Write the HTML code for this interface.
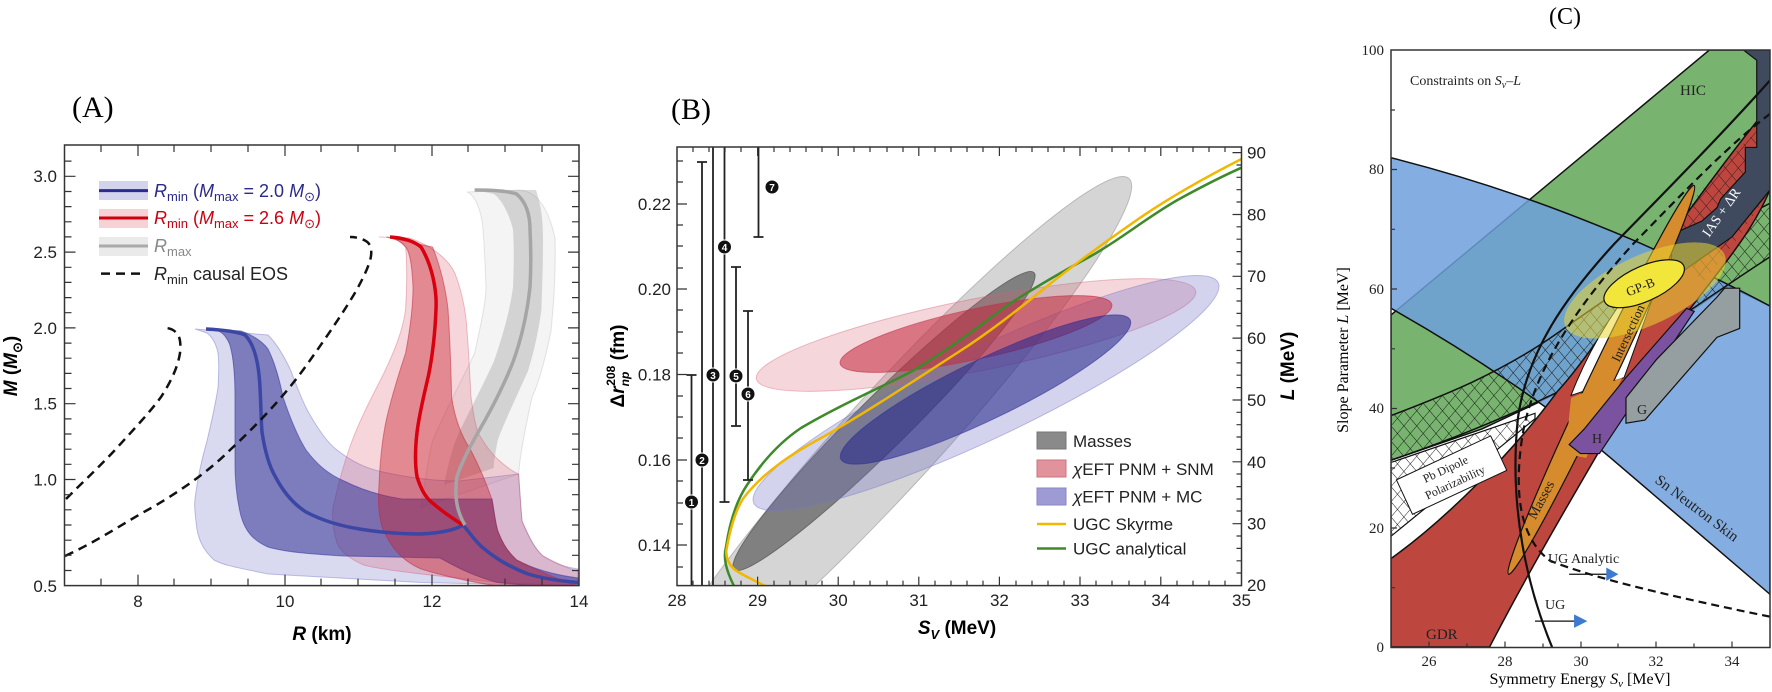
<!DOCTYPE html>
<html><head><meta charset="utf-8"><style>
html,body{margin:0;padding:0;background:#fff;overflow:hidden}
svg{display:block}
.s{font-family:"Liberation Sans",sans-serif}
.r{font-family:"Liberation Serif",serif}
</style></head><body>
<svg width="1772" height="692" viewBox="0 0 1772 692" xmlns="http://www.w3.org/2000/svg">
<defs>
<clipPath id="ca"><rect x="64.5" y="145" width="514.5" height="440.6"/></clipPath>
<clipPath id="cb"><rect x="677" y="147" width="564.5" height="438.6"/></clipPath>
<clipPath id="cc"><rect x="560" y="127" width="1000" height="1336"/></clipPath>
<pattern id="hx" width="24" height="24" patternUnits="userSpaceOnUse" patternTransform="rotate(45)">
<path d="M0 0H24M0 0V24" stroke="#111" stroke-width="2.2"/></pattern>
</defs>

<!-- ============ PANEL A ============ -->
<text x="72" y="117" class="r" font-size="30">(A)</text>
<g clip-path="url(#ca)">
<!-- gray outer light -->
<path d="M467,192 L520,190 C540,192 550,215 555,238 C556,280 553,310 551,331 C545,360 538,385 532,397 C525,430 520,455 518.6,474 L421,507.5 C425,480 428,460 432.5,441 C450,400 465,375 474.6,353 C482,320 486,300 486,287 C485,260 484,235 482,220.6 C478,200 472,194 467,192Z" fill="rgba(180,180,180,0.15)" stroke="rgba(170,170,170,0.3)"/>
<!-- gray mid -->
<path d="M474.6,190 L536,190 C541,205 543,220 543,238 C543,270 542,290 541.5,309 C538,335 533,355 528,371 C515,400 503,425 497.5,441 C495,455 494,462 493.7,468 L444,485 C448,465 452,448 459,432.5 C470,410 483,385 493.7,362 C503,335 510,310 513,287 C514,265 514,245 513,229.5 C508,210 500,198 493.7,194Z" fill="rgba(150,150,150,0.35)"/>
<!-- blue light -->
<path d="M195,329 L268,335 C278,345 285,358 291,371 C298,390 304,405 310,415 C320,432 328,443 337,450 C352,462 368,469 383,472 C410,478 435,481 459,481 L518.6,474 C520,495 521,510 522,521 C530,540 536,550 543,556 C555,564 565,567 578,569 L578,586 L421,582.5 L268,574 C240,568 225,566 214,560 C203,550 199,540 197,529.6 C195,515 194,505 195,499 C198,475 202,458 207,441 C212,420 216,400 218,388 C219,370 219,360 218,353 C216,343 212,337 207,333Z" fill="rgba(130,130,205,0.3)" stroke="rgba(120,120,200,0.45)"/>
<!-- red light -->
<path d="M379,237 L409.5,238 C430,245 448,258 455,273.6 C462,292 466,312 467,331 C469,355 470,380 471,397 C473,412 475,424 478,432.5 C485,445 491,453 497.5,459 C505,466 512,471 518.6,474 C520,495 521,510 522,521 C530,540 536,550 543,556 C560,565 570,569 578,571.5 L578,586 L497.5,582.5 L421,574 C395,571 375,568 363.6,565 C348,558 340,551 337,543 C333,530 332,518 333,507.5 C338,485 345,460 352,441 C362,415 373,395 383,375 C395,350 403,330 405.6,309 C407,285 407,262 405.6,247 C400,240 390,237 379,237Z" fill="rgba(220,70,90,0.22)" stroke="rgba(210,80,100,0.35)"/>
<!-- blue dark -->
<path d="M208.6,329 L241,331 C252,335 262,341 268,349 C276,365 280,382 283,397 C290,418 298,437 306,450 C318,466 330,475 344,481 C362,490 382,496 402,499 L492,499 C494,510 495,520 497.5,530 C503,545 509,553 516.6,560 C535,570 555,575 578,578 L578,590 L497.5,582.5 C470,575 455,566 440,558 L344,556 C310,554 285,552 268,547 C252,540 245,530 241,516 C237,500 235,480 235,463 C235,440 235,415 235,397 C235,375 233,355 229.6,344 C226,336 222,332 218,331Z" fill="rgba(50,50,150,0.55)" stroke="rgba(60,60,160,0.6)"/>
<!-- red dark -->
<path d="M386.5,237 L432.5,247 C440,265 446,290 448,309 C450,340 451,370 451.6,397 C455,420 462,437 470.7,450 C480,468 487,485 491.8,499 C494,512 495,522 497.5,530 C503,545 509,553 516.6,560 C540,572 560,580 578,586 L497.5,586 C470,582 440,575 421,569 C400,560 390,545 383,529.6 C378,515 378,500 379,485 C380,460 383,435 386.5,419 C392,395 400,370 405.6,353 C410,330 413,305 413,287 C412,265 410,252 405.6,247 C400,240 393,238 386.5,237Z" fill="rgba(200,30,45,0.42)" stroke="rgba(190,40,60,0.5)"/>
<!-- lines -->
<path d="M206,329 C225,330 238,332 245,335 C255,345 259,365 260,388 C261,405 261,420 262,432 C265,452 269,466 275.5,477 C285,495 295,505 306,512 C325,522 345,527 363.6,529.6 C385,533 405,534 421,534 C440,533 455,530 463,525 C470,533 476,542 482,547 C497,560 512,568 528,574 C545,579 560,581 578,582.5" fill="none" stroke="#3c46a4" stroke-width="3.5"/>
<path d="M390,237 C405,238 415,242 421,247 C432,265 437,290 436,309 C435,335 432,358 428.6,375 C424,395 419,415 417,432.5 C415,450 415,465 417,476.6 C421,490 426,498 432.5,503 C443,512 455,520 463,525" fill="none" stroke="#d90010" stroke-width="3.5"/>
<path d="M474.6,190 C495,190 508,191 516.6,194 C526,202 530,215 530,229.5 C531,250 531,270 530,287 C527,315 521,340 513,362 C502,390 490,412 478,432.5 C468,450 461,464 457,476.6 C455,490 456,503 459,512 C461,518 463,522 465,525" fill="none" stroke="#a5a5a5" stroke-width="3.5"/>
<!-- dashed -->
<path d="M66,499 C85,480 100,466 115,450 C135,428 150,412 161,397 C172,380 178,366 180,353 C181,344 180,338 178,335 C175,330 170,328 165,328" fill="none" stroke="#111" stroke-width="2.5" stroke-dasharray="9,6"/>
<path d="M65,556 C100,540 125,522 153,507 C185,488 210,470 230,450 C260,422 285,395 306,366 C328,335 345,310 356,291 C365,275 370,263 371,256 C372,248 370,243 365,240.5 C360,238 355,237 350,237" fill="none" stroke="#111" stroke-width="2.5" stroke-dasharray="9,6"/>
</g>
<rect x="64.5" y="145" width="514.5" height="440.6" fill="none" stroke="#333" stroke-width="1.5"/>
<g stroke="#333" stroke-width="1.2">
<path d="M101,585.6v-7M138,585.6v-11M174,585.6v-7M211,585.6v-7M248,585.6v-7M285,585.6v-11M321,585.6v-7M358,585.6v-7M395,585.6v-7M432,585.6v-11M468,585.6v-7M505,585.6v-7M542,585.6v-7"/>
<path d="M101,145v7M138,145v11M174,145v7M211,145v7M248,145v7M285,145v11M321,145v7M358,145v7M395,145v7M432,145v11M468,145v7M505,145v7M542,145v7"/>
<path d="M64.5,570.5h7M64.5,555.3h7M64.5,540.2h7M64.5,525h7M64.5,509.8h7M64.5,494.7h7M64.5,479.5h11M64.5,464.3h7M64.5,449.2h7M64.5,434h7M64.5,418.9h7M64.5,403.7h11M64.5,388.5h7M64.5,373.4h7M64.5,358.2h7M64.5,343.1h7M64.5,327.9h11M64.5,312.7h7M64.5,297.6h7M64.5,282.4h7M64.5,267.3h7M64.5,252.1h11M64.5,236.9h7M64.5,221.8h7M64.5,206.6h7M64.5,191.5h7M64.5,176.3h11M64.5,161.1h7"/>
<path d="M579,570.5h-7M579,555.3h-7M579,540.2h-7M579,525h-7M579,509.8h-7M579,494.7h-7M579,479.5h-11M579,464.3h-7M579,449.2h-7M579,434h-7M579,418.9h-7M579,403.7h-11M579,388.5h-7M579,373.4h-7M579,358.2h-7M579,343.1h-7M579,327.9h-11M579,312.7h-7M579,297.6h-7M579,282.4h-7M579,267.3h-7M579,252.1h-11M579,236.9h-7M579,221.8h-7M579,206.6h-7M579,191.5h-7M579,176.3h-11M579,161.1h-7"/>
</g>
<g class="s" font-size="17" fill="#222" text-anchor="end">
<text x="57" y="592">0.5</text><text x="57" y="485.5">1.0</text><text x="57" y="409.5">1.5</text><text x="57" y="334">2.0</text><text x="57" y="258">2.5</text><text x="57" y="182">3.0</text>
</g>
<g class="s" font-size="17" fill="#222" text-anchor="middle">
<text x="138" y="607">8</text><text x="285" y="607">10</text><text x="432" y="607">12</text><text x="579" y="607">14</text>
</g>
<text x="322" y="640" class="s" font-size="19" font-weight="bold" text-anchor="middle"><tspan font-style="italic">R</tspan> (km)</text>
<text transform="translate(17,366) rotate(-90)" class="s" font-size="19" font-weight="bold" text-anchor="middle"><tspan font-style="italic">M</tspan> (<tspan font-style="italic">M</tspan><tspan font-size="13" dy="5">⊙</tspan><tspan dy="-5">)</tspan></text>
<!-- legend A -->
<rect x="99" y="181" width="49" height="19" fill="rgba(130,130,205,0.35)"/><line x1="99" y1="190.6" x2="148" y2="190.6" stroke="#2c2c90" stroke-width="3"/>
<rect x="99" y="209" width="49" height="19" fill="rgba(220,70,90,0.25)"/><line x1="99" y1="218" x2="148" y2="218" stroke="#cc0010" stroke-width="3"/>
<rect x="99" y="237" width="49" height="19" fill="rgba(170,170,170,0.25)"/><line x1="99" y1="246" x2="148" y2="246" stroke="#aaa" stroke-width="3"/>
<line x1="101" y1="273.6" x2="144" y2="273.6" stroke="#111" stroke-width="2.5" stroke-dasharray="9,6"/>
<g class="s" font-size="18">
<text x="154" y="197" fill="#2a2a8a"><tspan font-style="italic">R</tspan><tspan font-size="13" dy="4">min</tspan><tspan dy="-4"> (</tspan><tspan font-style="italic">M</tspan><tspan font-size="13" dy="4">max</tspan><tspan dy="-4"> = 2.0 </tspan><tspan font-style="italic">M</tspan><tspan font-size="13" dy="4">⊙</tspan><tspan dy="-4">)</tspan></text>
<text x="154" y="224" fill="#cc0010"><tspan font-style="italic">R</tspan><tspan font-size="13" dy="4">min</tspan><tspan dy="-4"> (</tspan><tspan font-style="italic">M</tspan><tspan font-size="13" dy="4">max</tspan><tspan dy="-4"> = 2.6 </tspan><tspan font-style="italic">M</tspan><tspan font-size="13" dy="4">⊙</tspan><tspan dy="-4">)</tspan></text>
<text x="154" y="252" fill="#888"><tspan font-style="italic">R</tspan><tspan font-size="13" dy="4">max</tspan></text>
<text x="154" y="280" fill="#222"><tspan font-style="italic">R</tspan><tspan font-size="13" dy="4">min</tspan><tspan dy="-4"> causal EOS</tspan></text>
</g>

<!-- ============ PANEL B ============ -->
<text x="671" y="119" class="r" font-size="30">(B)</text>
<g clip-path="url(#cb)">
<ellipse cx="893" cy="437" rx="350" ry="48" transform="rotate(-47.6 893 437)" fill="rgba(150,150,150,0.4)" stroke="rgba(140,140,140,0.5)"/>
<ellipse cx="884" cy="421" rx="211" ry="26" transform="rotate(-44.7 884 421)" fill="rgba(95,95,95,0.72)" stroke="rgba(80,80,80,0.7)"/>
<ellipse cx="976" cy="335" rx="224" ry="36" transform="rotate(-11.3 976 335)" fill="rgba(215,90,110,0.25)" stroke="rgba(210,100,120,0.4)"/>
<ellipse cx="986" cy="393" rx="257" ry="45" transform="rotate(-25.4 986 393)" fill="rgba(110,110,200,0.3)" stroke="rgba(120,120,200,0.45)"/>
<ellipse cx="976" cy="334" rx="139" ry="25" transform="rotate(-12.3 976 334)" fill="rgba(195,40,60,0.55)" stroke="rgba(190,50,70,0.6)"/>
<ellipse cx="985.5" cy="389.5" rx="160.5" ry="30" transform="rotate(-25.7 985.5 389.5)" fill="rgba(40,40,140,0.58)" stroke="rgba(50,50,150,0.6)"/>
<path d="M734,586 C726,570 723,558 726,547 C730,520 737,500 747,485 C762,462 780,442 801,428 C840,405 880,388 912.5,371 C945,352 975,330 1002,309 C1030,290 1060,273 1091,256 C1120,240 1150,215 1180,198.6 C1205,185 1225,175 1241.5,167.7" fill="none" stroke="#3e8a2a" stroke-width="2.5"/>
<path d="M765,586 C750,578 740,574 734,569 C727,562 725,555 727,547 C731,525 736,510 743,498.7 C765,470 795,452 823,437 C870,410 915,380 957,353 C990,332 1020,308 1046,287 C1075,264 1105,242 1136,220.6 C1170,197 1210,175 1241.5,159" fill="none" stroke="#f0b800" stroke-width="2.5"/>
<!-- error bars -->
<g stroke="#222" stroke-width="1.8">
<path d="M691.5,586V375M686.5,375h10"/>
<path d="M702,586V162M697,162h10"/>
<path d="M713,586V147"/>
<path d="M724.5,147V502M719.5,502h10"/>
<path d="M736,267V426M731,267h10M731,426h10"/>
<path d="M748,311V480M743,311h10M743,480h10"/>
<path d="M758.5,147V237M753.5,237h10"/>
</g>
<g fill="#111" stroke="#fff" stroke-width="1">
<circle cx="691.5" cy="502" r="7"/><circle cx="702" cy="460" r="7"/><circle cx="713" cy="375" r="7"/><circle cx="724.5" cy="247" r="7"/><circle cx="736" cy="376" r="7"/><circle cx="748" cy="394" r="7"/><circle cx="772" cy="187" r="7"/>
</g>
<g class="s" font-size="10" font-weight="bold" fill="#fff" text-anchor="middle">
<text x="691.5" y="506">1</text><text x="702" y="464">2</text><text x="713" y="379">3</text><text x="724.5" y="251">4</text><text x="736" y="380">5</text><text x="748" y="398">6</text><text x="772" y="191">7</text>
</g>
</g>
<rect x="677" y="147" width="564.5" height="438.6" fill="none" stroke="#333" stroke-width="1.5"/>
<g stroke="#333" stroke-width="1.2">
<path d="M693,585.6v-5M709,585.6v-5M725,585.6v-5M741,585.6v-5M757.6,585.6v-9M774,585.6v-5M790,585.6v-5M806,585.6v-5M822,585.6v-5M838.2,585.6v-9M854,585.6v-5M870,585.6v-5M887,585.6v-5M903,585.6v-5M918.8,585.6v-9M935,585.6v-5M951,585.6v-5M967,585.6v-5M983,585.6v-5M999.4,585.6v-9M1016,585.6v-5M1032,585.6v-5M1048,585.6v-5M1064,585.6v-5M1080,585.6v-9M1096,585.6v-5M1112,585.6v-5M1129,585.6v-5M1145,585.6v-5M1160.8,585.6v-9M1177,585.6v-5M1193,585.6v-5M1209,585.6v-5M1225,585.6v-5"/>
<path d="M693,147v5M709,147v5M725,147v5M741,147v5M757.6,147v9M774,147v5M790,147v5M806,147v5M822,147v5M838.2,147v9M854,147v5M870,147v5M887,147v5M903,147v5M918.8,147v9M935,147v5M951,147v5M967,147v5M983,147v5M999.4,147v9M1016,147v5M1032,147v5M1048,147v5M1064,147v5M1080,147v9M1096,147v5M1112,147v5M1129,147v5M1145,147v5M1160.8,147v9M1177,147v5M1193,147v5M1209,147v5M1225,147v5"/>
<path d="M677,567h6M677,545h10M677,524h6M677,503h6M677,481h6M677,460h10M677,438h6M677,417h6M677,396h6M677,374.5h10M677,353h6M677,332h6M677,310h6M677,289h10M677,268h6M677,246h6M677,225h6M677,204h10M677,182h6M677,161h6"/>
<path d="M1241.5,573h-5M1241.5,560.8h-5M1241.5,548.4h-5M1241.5,536h-5M1241.5,523.7h-9M1241.5,511h-5M1241.5,499h-5M1241.5,486.6h-5M1241.5,474h-5M1241.5,461.8h-9M1241.5,449.4h-5M1241.5,437h-5M1241.5,424.7h-5M1241.5,412.3h-5M1241.5,400h-9M1241.5,387.6h-5M1241.5,375.2h-5M1241.5,362.9h-5M1241.5,350.5h-5M1241.5,338.1h-9M1241.5,325.8h-5M1241.5,313.4h-5M1241.5,301h-5M1241.5,288.7h-5M1241.5,276.3h-9M1241.5,264h-5M1241.5,251.6h-5M1241.5,239.2h-5M1241.5,226.8h-5M1241.5,214.5h-9M1241.5,202h-5M1241.5,189.7h-5M1241.5,177.3h-5M1241.5,165h-5M1241.5,152.6h-9"/>
</g>
<g class="s" font-size="17" fill="#222" text-anchor="end">
<text x="671" y="551">0.14</text><text x="671" y="466">0.16</text><text x="671" y="380.5">0.18</text><text x="671" y="295">0.20</text><text x="671" y="210">0.22</text>
</g>
<g class="s" font-size="17" fill="#222">
<text x="1247" y="591">20</text><text x="1247" y="529.7">30</text><text x="1247" y="468">40</text><text x="1247" y="406">50</text><text x="1247" y="344">60</text><text x="1247" y="282">70</text><text x="1247" y="220.5">80</text><text x="1247" y="158.6">90</text>
</g>
<g class="s" font-size="17" fill="#222" text-anchor="middle">
<text x="677" y="606">28</text><text x="757.6" y="606">29</text><text x="838.2" y="606">30</text><text x="918.8" y="606">31</text><text x="999.4" y="606">32</text><text x="1080" y="606">33</text><text x="1160.8" y="606">34</text><text x="1241.5" y="606">35</text>
</g>
<text x="957" y="634" class="s" font-size="19" font-weight="bold" text-anchor="middle"><tspan font-style="italic">S</tspan><tspan font-style="italic" font-size="13" dy="5">V</tspan><tspan dy="-5"> (MeV)</tspan></text>
<text transform="translate(624,366) rotate(-90)" class="s" font-size="19" font-weight="bold" text-anchor="middle">Δ<tspan font-style="italic">r</tspan><tspan font-size="12" dy="5" font-style="italic">np</tspan><tspan font-size="12" dx="-14" dy="-14">208</tspan><tspan dy="9"> (fm)</tspan></text>
<text transform="translate(1294,366) rotate(-90)" class="s" font-size="19" font-weight="bold" text-anchor="middle"><tspan font-style="italic">L</tspan> (MeV)</text>
<!-- legend B -->
<rect x="1037" y="432" width="29" height="17" fill="#8a8a8a" stroke="#777"/>
<rect x="1037" y="460" width="29" height="17" fill="#e0939c" stroke="#d07080"/>
<rect x="1037" y="488" width="29" height="17" fill="#9e9ad4" stroke="#8a86c8"/>
<line x1="1037" y1="524" x2="1066" y2="524" stroke="#f0b800" stroke-width="2.5"/>
<line x1="1037" y1="548.5" x2="1066" y2="548.5" stroke="#3e8a2a" stroke-width="2.5"/>
<g class="s" font-size="17" fill="#222">
<text x="1073" y="447">Masses</text>
<text x="1073" y="475"><tspan font-style="italic">χ</tspan>EFT PNM + SNM</text>
<text x="1073" y="502.5"><tspan font-style="italic">χ</tspan>EFT PNM + MC</text>
<text x="1073" y="530">UGC Skyrme</text>
<text x="1073" y="554.5">UGC analytical</text>
</g>

<!-- ============ PANEL C ============ -->
<text x="1565" y="24" class="r" font-size="24" text-anchor="middle">(C)</text>
<g transform="translate(1391,50) scale(0.379,0.4469) translate(-560,-127)" clip-path="url(#cc)">
<rect x="560" y="127" width="1000" height="1336" fill="#fff"/>
<path d="M560,720 L1400,127 L1560,127 L1560,700 L1450,655 L1300,740 L1100,850 L950,915 L800,975 L560,1045Z" fill="#78b46f" stroke="#111" stroke-width="1.5" vector-effect="non-scaling-stroke"/>
<path d="M560,368 C800,420 1000,480 1220,560 C1350,610 1450,650 1560,700 L1560,1345 C1400,1230 1250,1120 1140,1040 C1000,940 800,820 560,705Z" fill="rgba(110,160,220,0.85)" stroke="#111" stroke-width="1.5" vector-effect="non-scaling-stroke"/>
<path d="M560,945 C700,900 850,850 1000,760 C1150,670 1300,580 1560,470 L1560,590 C1450,650 1300,740 1100,850 C950,915 800,975 560,1045Z" fill="url(#hx)" stroke="#111" stroke-width="1.5" vector-effect="non-scaling-stroke"/>
<path d="M560,1050 L940,940 L940,952 L560,1215Z" fill="#fff" stroke="#111" stroke-width="1.2" vector-effect="non-scaling-stroke"/>
<path d="M560,1050 L940,940 L940,952 L560,1215Z" fill="url(#hx)"/>
<path d="M560,1265 C700,1180 880,1030 1000,890 C1100,800 1300,520 1560,250 L1560,440 C1500,560 1400,640 1250,820 C1100,1040 950,1250 820,1463 L560,1463Z" fill="#bd463f" stroke="#111" stroke-width="1.5" vector-effect="non-scaling-stroke"/>
<path d="M1300,520 C1400,420 1480,340 1560,280 L1560,440 C1500,520 1450,580 1380,650Z" fill="url(#hx)" opacity="0.8"/>
<path d="M1490,127 L1525,150 L1525,345 L1495,345 L1495,400 L1430,460 L1420,480 L1380,510 L1300,540 L1300,640 L1460,545 L1560,440 L1560,127Z" fill="#3f4a5e" stroke="#111" stroke-width="1.2" vector-effect="non-scaling-stroke"/>
<path d="M1035,900 C1080,800 1150,700 1250,600 L1290,590 C1250,680 1210,780 1175,860Z" fill="#fff" stroke="#111" stroke-width="1" vector-effect="non-scaling-stroke"/>
<ellipse cx="1115" cy="865" rx="499" ry="30" transform="rotate(-60.6 1115 865)" fill="#d68b2d" stroke="#111" stroke-width="1.2" vector-effect="non-scaling-stroke"/>
<path d="M1035,905 L1170,860 L1075,1040 L1020,1030Z" fill="#d68b2d"/>
<path d="M1030,1010 L1070,975 L1180,860 L1340,705 L1360,712 L1110,1030 L1060,1030Z" fill="#7b52a0" stroke="#111" stroke-width="1.2" vector-effect="non-scaling-stroke"/>
<path d="M1180,905 L1260,820 L1420,680 L1440,660 L1480,660 L1480,750 L1420,770 L1230,955 L1180,962Z" fill="#959ea1" stroke="#111" stroke-width="1.2" vector-effect="non-scaling-stroke"/>
<ellipse cx="1230" cy="665" rx="225" ry="80" transform="rotate(-20 1230 665)" fill="rgba(235,215,50,0.55)"/>
<ellipse cx="1228" cy="650" rx="112" ry="40" transform="rotate(-20 1228 650)" fill="#f2e63a" stroke="#111" stroke-width="1.2" vector-effect="non-scaling-stroke"/>
<path d="M985,1463 C920,1330 870,1150 895,950 C920,800 1020,680 1150,560 C1300,430 1450,300 1560,195" fill="none" stroke="#111" stroke-width="2.2" vector-effect="non-scaling-stroke"/>
<path d="M1560,1395 C1300,1350 1100,1310 980,1270 C900,1220 885,1120 905,1000 C930,850 1050,700 1200,560 C1350,430 1450,340 1560,270" fill="none" stroke="#111" stroke-width="2.2" stroke-dasharray="8,5" vector-effect="non-scaling-stroke"/>
<path d="M1030,1300 H1130" stroke="#111" stroke-width="1.2" vector-effect="non-scaling-stroke"/>
<path d="M1128,1285 L1160,1300 L1128,1315Z" fill="#3d7ad0"/>
<path d="M940,1405 H1045" stroke="#111" stroke-width="1.2" vector-effect="non-scaling-stroke"/>
<path d="M1043,1390 L1078,1405 L1043,1420Z" fill="#3d7ad0"/>
</g>
<rect x="1391" y="50" width="379" height="597.5" fill="none" stroke="#333" stroke-width="1.5"/>
<g stroke="#333" stroke-width="1.2">
<path d="M1429,647.5v-6M1467,647.5v-4M1505,647.5v-6M1543,647.5v-4M1581,647.5v-6M1618,647.5v-4M1656,647.5v-6M1694,647.5v-4M1732,647.5v-6"/>
<path d="M1391,587.7h4M1391,528h6M1391,468h4M1391,408.5h6M1391,348.8h4M1391,289h6M1391,229.3h4M1391,169.5h6M1391,110h4"/>
</g>
<g class="r" font-size="15" fill="#222" text-anchor="end">
<text x="1384" y="652">0</text><text x="1384" y="533">20</text><text x="1384" y="413">40</text><text x="1384" y="294">60</text><text x="1384" y="174">80</text><text x="1384" y="55">100</text>
</g>
<g class="r" font-size="15" fill="#222" text-anchor="middle">
<text x="1429" y="666">26</text><text x="1505" y="666">28</text><text x="1581" y="666">30</text><text x="1656" y="666">32</text><text x="1732" y="666">34</text>
</g>
<text x="1580" y="684" class="r" font-size="16" text-anchor="middle">Symmetry Energy <tspan font-style="italic">S</tspan><tspan font-style="italic" font-size="11" dy="3">v</tspan><tspan dy="-3"> [MeV]</tspan></text>
<text transform="translate(1348,350) rotate(-90)" class="r" font-size="16" text-anchor="middle">Slope Parameter <tspan font-style="italic">L</tspan> [MeV]</text>
<g class="r" fill="#222">
<text x="1410" y="85" font-size="14">Constraints on <tspan font-style="italic">S</tspan><tspan font-style="italic" font-size="10" dy="3">v</tspan><tspan dy="-3">–</tspan><tspan font-style="italic">L</tspan></text>
<text x="1680" y="95" font-size="15">HIC</text>
<text x="1426" y="639" font-size="15">GDR</text>
<text x="1592" y="443" font-size="14">H</text>
<text x="1637" y="414" font-size="14">G</text>
<text transform="translate(1545,502) rotate(-62)" font-size="14" text-anchor="middle">Masses</text>
<text transform="translate(1694,512) rotate(37)" font-size="15" text-anchor="middle">Sn Neutron Skin</text>
<text transform="translate(1725,215) rotate(-55)" font-size="14" text-anchor="middle" fill="#fff">IAS + ΔR</text>
<text transform="translate(1642,291) rotate(-22)" font-size="13" text-anchor="middle">GP-B</text>
<text transform="translate(1632,335) rotate(-65)" font-size="13" text-anchor="middle">Intersection</text>
<text x="1548" y="563" font-size="14">UG Analytic</text>
<text x="1545" y="609" font-size="14">UG</text>
<g transform="translate(1452,476) rotate(-25)">
<rect x="-52" y="-20" width="104" height="38" fill="#fff" stroke="#111" stroke-width="1"/>
<text x="-3" y="-5" font-size="12" text-anchor="middle">Pb Dipole</text>
<text x="0" y="11" font-size="12" text-anchor="middle">Polarizability</text>
</g>
</g>
</svg>
</body></html>
